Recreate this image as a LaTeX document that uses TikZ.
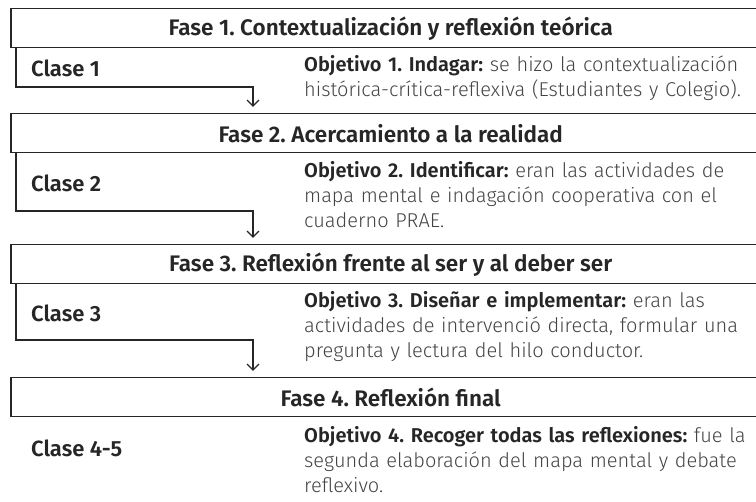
\documentclass[tikz,border=0pt]{standalone}
\usepackage{fontspec}
\setmainfont{Fira Sans}[UprightFont=* Light, BoldFont=* SemiBold]
\usetikzlibrary{arrows.meta}
\definecolor{ink}{HTML}{262626}
\definecolor{body}{HTML}{444444}
\frenchspacing
\begin{document}
\begin{tikzpicture}[x=1pt,y=-1pt,
  fase/.style={draw=ink, line width=1.5pt, minimum width=760pt, minimum height=39pt,
    anchor=north west, inner sep=0pt, text=ink,
    font=\fontsize{22.5}{26}\selectfont\bfseries},
  link/.style={draw=ink, line width=1.3pt},
  arr/.style={-{Straight Barb[length=6pt,width=12pt,line width=1.3pt]}},
  clab/.style={anchor=base west, inner sep=0pt, text=ink,
    font=\fontsize{22}{26}\selectfont\bfseries},
  obj/.style={anchor=base west, align=left, inner sep=0pt, text width=460pt, text=body,
    font=\fontsize{20}{25}\selectfont}]
\useasboundingbox (0,0) rectangle (756,502);
\clip (0,0) rectangle (756,502);

\node[fase] (f1) at (10,8)   {Fase 1. Contextualización y reflexión teórica};
\node[fase] (f2) at (10,113) {Fase 2. Acercamiento a la realidad};
\node[fase] (f3) at (10,244) {Fase 3. Reflexión frente al ser y al deber ser};
\node[fase] (f4) at (10,377) {Fase 4. Reflexión final};

\coordinate (c1a) at (16,47);  \coordinate (c1b) at (253,87);
\coordinate (c2a) at (16,153); \coordinate (c2b) at (253,211);
\coordinate (c3a) at (16,284); \coordinate (c3b) at (253,340);

\draw[link,arr,shorten >=6pt] (c1a) |- (c1b) -- (c1b |- f2.north);
\draw[link,arr,shorten >=6pt] (c2a) |- (c2b) -- (c2b |- f3.north);
\draw[link,arr,shorten >=6pt] (c3a) |- (c3b) -- (c3b |- f4.north);

\node[clab] (k1) at (31,77)  {Clase 1};
\node[clab] (k2) at (31,192) {Clase 2};
\node[clab] (k3) at (31,322) {Clase 3};
\node[clab] (k4) at (31,457) {Clase 4-5};

\node[obj] (o1) at (304,72) {\textcolor{ink}{\bfseries Objetivo 1. Indagar:} se hizo la contextualización\\
histórica-crítica-reflexiva (Estudiantes y Colegio).};
\node[obj] (o2) at (304,178) {\textcolor{ink}{\bfseries Objetivo 2. Identificar:} eran las actividades de\\
mapa mental e indagación cooperativa con el\\
cuaderno PRAE.};
\node[obj] (o3) at (304,308) {\textcolor{ink}{\bfseries Objetivo 3. Diseñar e implementar:} eran las\\
actividades de intervenció directa, formular una\\
pregunta y lectura del hilo conductor.};
\node[obj] (o4) at (304,443) {\textcolor{ink}{\bfseries Objetivo 4. Recoger todas las reflexiones:} fue la\\
segunda elaboración del mapa mental y debate\\
reflexivo.};
\end{tikzpicture}
\end{document}
